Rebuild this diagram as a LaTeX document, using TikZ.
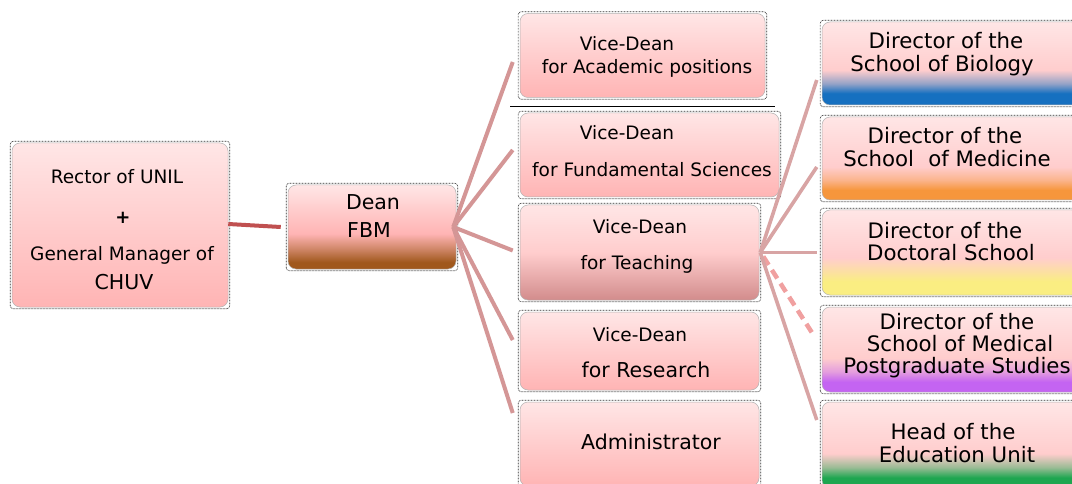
\documentclass[tikz,border=0pt]{standalone}
\usepackage{fontspec}
\setmainfont{DejaVu Sans}
\usetikzlibrary{calc}

% box fills
\definecolor{pktop}{RGB}{255,230,230}
\definecolor{pkmid}{RGB}{255,205,205}
\definecolor{pkbot}{RGB}{255,180,180}
\definecolor{brownb}{RGB}{160,88,28}
\definecolor{teachb}{RGB}{210,140,140}
\definecolor{blueb}{RGB}{22,112,192}
\definecolor{orangeb}{RGB}{246,150,60}
\definecolor{yellowb}{RGB}{250,238,130}
\definecolor{purpleb}{RGB}{196,100,242}
\definecolor{greenb}{RGB}{30,166,80}
\colorlet{tanb}{brownb!50!pkbot}
\colorlet{bluem}{blueb!45!pkmid}
\colorlet{orangem}{orangeb!45!pkmid}
\colorlet{yellowm}{yellowb!55!pkmid}
\colorlet{purplem}{purpleb!45!pkmid}
\colorlet{greenm}{greenb!45!pkmid}
% connectors
\definecolor{rectorlink}{RGB}{192,80,80}
\definecolor{deanlink}{RGB}{212,150,150}
\definecolor{teachlink}{RGB}{216,164,164}
\definecolor{dashlink}{RGB}{240,160,160}

\pgfdeclareverticalshading{pinkfill}{100bp}{color(0bp)=(pkbot); color(25bp)=(pkbot); color(75bp)=(pktop); color(100bp)=(pktop)}
\pgfdeclareverticalshading{deanfill}{100bp}{color(0bp)=(brownb); color(29bp)=(brownb); color(37bp)=(tanb); color(46bp)=(pkbot); color(75bp)=(pktop); color(100bp)=(pktop)}
\pgfdeclareverticalshading{teachfill}{100bp}{color(0bp)=(teachb); color(25bp)=(teachb); color(50bp)=(pkmid); color(75bp)=(pktop); color(100bp)=(pktop)}
\pgfdeclareverticalshading{bluefill}{100bp}{color(0bp)=(blueb); color(32bp)=(blueb); color(38bp)=(bluem); color(46bp)=(pkmid); color(75bp)=(pktop); color(100bp)=(pktop)}
\pgfdeclareverticalshading{orangefill}{100bp}{color(0bp)=(orangeb); color(31bp)=(orangeb); color(37bp)=(orangem); color(45bp)=(pkmid); color(75bp)=(pktop); color(100bp)=(pktop)}
\pgfdeclareverticalshading{yellowfill}{100bp}{color(0bp)=(yellowb); color(33bp)=(yellowb); color(39bp)=(yellowm); color(47bp)=(pkmid); color(75bp)=(pktop); color(100bp)=(pktop)}
\pgfdeclareverticalshading{purplefill}{100bp}{color(0bp)=(purpleb); color(31bp)=(purpleb); color(37bp)=(purplem); color(45bp)=(pkmid); color(75bp)=(pktop); color(100bp)=(pktop)}
\pgfdeclareverticalshading{greenfill}{100bp}{color(0bp)=(greenb); color(31bp)=(greenb); color(37bp)=(greenm); color(45bp)=(pkmid); color(75bp)=(pktop); color(100bp)=(pktop)}

\begin{document}
\begin{tikzpicture}[x=1pt,y=-1pt,
  orgbox/.style={shade, draw=gray!60, line width=0.5pt, rounded corners=8pt, inner sep=0pt},
  frame/.style={draw=gray!40!black, line width=0.7pt, dash pattern=on 0.7pt off 0.8pt, rounded corners=3pt},
  txt/.style={anchor=mid, inner sep=0pt, text=black, yshift=-4pt},
  fs/.style={font=\fontsize{18.5}{20}\selectfont},
  fm/.style={font=\fontsize{20.5}{22}\selectfont},
  fl/.style={font=\fontsize{21.3}{23}\selectfont},
  deanline/.style={draw=deanlink, line width=4pt},
  teachline/.style={draw=teachlink, line width=3.6pt}]
\useasboundingbox (0,0) rectangle (1072,484);

% ---- boxes ----
\node[orgbox, shading=pinkfill,   minimum width=216pt, minimum height=164pt] (rector) at (120,225) {};
\node[orgbox, shading=deanfill,   minimum width=168pt, minimum height=84pt]  (dean)   at (372,227) {};
\node[orgbox, shading=pinkfill,   minimum width=245pt, minimum height=84pt]  (vdA)    at (642.5,55.5) {};
\node[orgbox, shading=pinkfill,   minimum width=259pt, minimum height=84pt]  (vdF)    at (649.5,155) {};
\node[orgbox, shading=teachfill,  minimum width=239pt, minimum height=95pt]  (vdT)    at (639.5,252.5) {};
\node[orgbox, shading=pinkfill,   minimum width=239pt, minimum height=78pt]  (vdR)    at (639.5,351) {};
\node[orgbox, shading=pinkfill,   minimum width=239pt, minimum height=84pt]  (adm)    at (639.5,444) {};
\node[orgbox, shading=bluefill,   minimum width=258pt, minimum height=83pt]  (bio)    at (951,63.5) {};
\node[orgbox, shading=orangefill, minimum width=258pt, minimum height=83pt]  (med)    at (951,158.5) {};
\node[orgbox, shading=yellowfill, minimum width=258pt, minimum height=85pt]  (doc)    at (951,252.5) {};
\node[orgbox, shading=purplefill, minimum width=258pt, minimum height=85pt]  (pg)     at (951,349.5) {};
\node[orgbox, shading=greenfill,  minimum width=258pt, minimum height=86pt]  (edu)    at (951,445) {};

% dotted outer frames
\foreach \n in {rector,dean,vdA,vdF,vdT,vdR,adm,bio,med,doc,pg,edu}
  \draw[frame] ([shift={(-1.5pt,-1.5pt)}]\n.south west) rectangle ([shift={(1.5pt,1.5pt)}]\n.north east);

% ---- texts ----
\node[txt, fs] (t1) at (117,177) {Rector of UNIL};
\node[txt, font=\bfseries\fontsize{18}{20}\selectfont] (t2) at (123,217) {+};
\node[txt, fs] (t3) at (122,254) {General Manager of};
\node[txt, fm] (t4) at (124,283) {CHUV};

\node[txt, fm] (t5) at (373,203) {Dean};
\node[txt, fm] (t6) at (369,231) {FBM};

\node[txt, fs] (t7)  at (627,44)  {Vice-Dean};
\node[txt, fs] (t8)  at (647,67)  {for Academic positions};
\node[txt, fs] (t9)  at (627,133) {Vice-Dean};
\node[txt, fs] (t10) at (652,170) {for Fundamental Sciences};
\node[txt, fs] (t11) at (640,227) {Vice-Dean};
\node[txt, fs] (t12) at (637,263) {for Teaching};
\node[txt, fs] (t13) at (640,335) {Vice-Dean};
\node[txt, fm] (t14) at (646,371) {for Research};
\node[txt, fm] (t15) at (651,443) {Administrator};

\node[txt, fl] (t16) at (946,42)  {Director of the};
\node[txt, fl] (t17) at (942,65)  {School of Biology};
\node[txt, fl] (t18) at (945,137) {Director of the};
\node[txt, fl] (t19) at (947,160) {School\hspace{0.35em} of Medicine};
\node[txt, fl] (t20) at (945,232) {Director of the};
\node[txt, fl] (t21) at (951,254) {Doctoral School};
\node[txt, fl] (t22) at (957,323) {Director of the};
\node[txt, fl] (t23) at (960,345) {School of Medical};
\node[txt, fl] (t24) at (957,367) {Postgraduate Studies};
\node[txt, fl] (t25) at (953,433) {Head of the};
\node[txt, fl] (t26) at (957,456) {Education Unit};

% ---- separator ----
\coordinate (sepL) at (510,107);
\coordinate (sepR) at (775,107);
\draw[black, line width=1pt] (sepL) -- (sepR);

% ---- connectors ----
\draw[draw=rectorlink, line width=4pt] ($(rector.east)+(0,-1)$) -- ($(dean.west)+(-7,0)$);

\coordinate (dO) at ($(dean.east)+(-3,0)$);
\draw[deanline] (dO) -- ($(vdA.west)+(-7,6.5)$);
\draw[deanline] (dO) -- ($(vdF.west)+(-7,-5)$);
\draw[deanline] (dO) -- ($(vdT.west)+(-7,-2)$);
\draw[deanline] (dO) -- ($(vdR.west)+(-7,-11)$);
\draw[deanline] (dO) -- ($(adm.west)+(-7,-31)$);

\coordinate (tO) at ($(vdT.east)+(1,0)$);
\draw[teachline] (tO) -- ($(bio.west)+(-5,16.5)$);
\draw[teachline] (tO) -- ($(med.west)+(-5,8.5)$);
\draw[teachline] (tO) -- ($(doc.west)+(-5,0)$);
\draw[draw=dashlink, line width=4.5pt, dash pattern=on 10pt off 6pt] ($(tO)+(3,4)$) -- ($(pg.west)+(-7,-12.5)$);
\draw[teachline] (tO) -- ($(edu.west)+(-5,-25)$);
\end{tikzpicture}
\end{document}
